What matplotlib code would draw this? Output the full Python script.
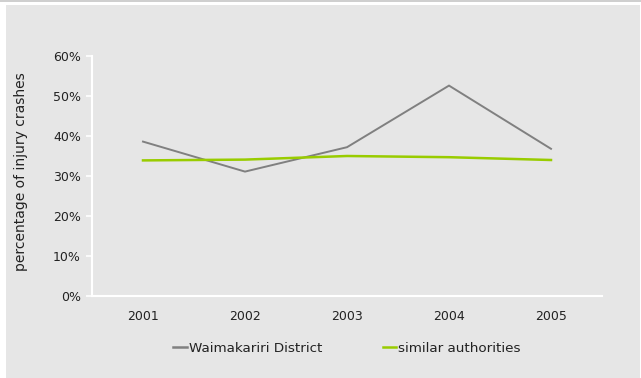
import matplotlib
matplotlib.use("Agg")
import matplotlib.pyplot as plt
from matplotlib.patches import Rectangle
from matplotlib.lines import Line2D
from matplotlib.ticker import FuncFormatter

years = ["2001", "2002", "2003", "2004", "2005"]
waimakariri = [38.6, 31.1, 37.2, 52.6, 36.8]
similar = [33.9, 34.1, 35.0, 34.7, 34.0]
yticks = [0, 10, 20, 30, 40, 50, 60]

W, H = 641, 378
plt.rcParams['font.family'] = ['DejaVu Sans']
fig = plt.figure(figsize=(W / 100, H / 100), dpi=100, facecolor="white")

# background panel and top border
fig.patches.append(Rectangle((6 / W, 0), (W - 7) / W, (H - 5) / H, transform=fig.transFigure,
                             facecolor="#e6e6e6", edgecolor="none", zorder=-10))
fig.patches.append(Rectangle((0, (H - 1.5) / H), 1, 1.5 / H, transform=fig.transFigure,
                             facecolor="#cfcfcf", edgecolor="none", zorder=-10))

ax = fig.add_axes([92 / W, (H - 296) / H, (602 - 92) / W, (296 - 56) / H])
ax.set_facecolor("none")
ax.set_zorder(5)
x = list(range(len(years)))
ax.plot(x, waimakariri, color="#808080", lw=1.4, solid_joinstyle="miter")
ax.plot(x, similar, color="#99cc00", lw=1.8)

ax.set_xlim(-0.5, len(years) - 0.5)
ax.set_ylim(0, 60)
ax.set_yticks(yticks)
ax.yaxis.set_major_formatter(FuncFormatter(lambda v, p: f"{int(v)}%"))
ax.set_xticks(x)
ax.set_xticklabels(years)

for s in ["top", "right"]:
    ax.spines[s].set_visible(False)
for s in ["left", "bottom"]:
    ax.spines[s].set_color("white")
    ax.spines[s].set_linewidth(1.5)
ax.tick_params(axis="y", colors="white", length=4, width=1.2, labelcolor="#222222", labelsize=9, pad=4)
ax.tick_params(axis="x", length=0, labelcolor="#222222", labelsize=9, pad=10)
ax.set_ylabel("percentage of injury crashes", fontsize=10, color="#222222", labelpad=18)
ax.yaxis.label.set_y(0.52)

handles = [Line2D([], [], color="#808080", lw=1.8), Line2D([], [], color="#99cc00", lw=1.8)]
leg = fig.legend(handles, ["Waimakariri District", "similar authorities"], loc="center",
                 bbox_to_anchor=(347 / W, 1 - 348 / H), ncol=2, frameon=False, fontsize=9.7,
                 handlelength=1.0, handletextpad=0.15, columnspacing=4.5, labelcolor="#222222")

fig.savefig("out.png", dpi=100)
